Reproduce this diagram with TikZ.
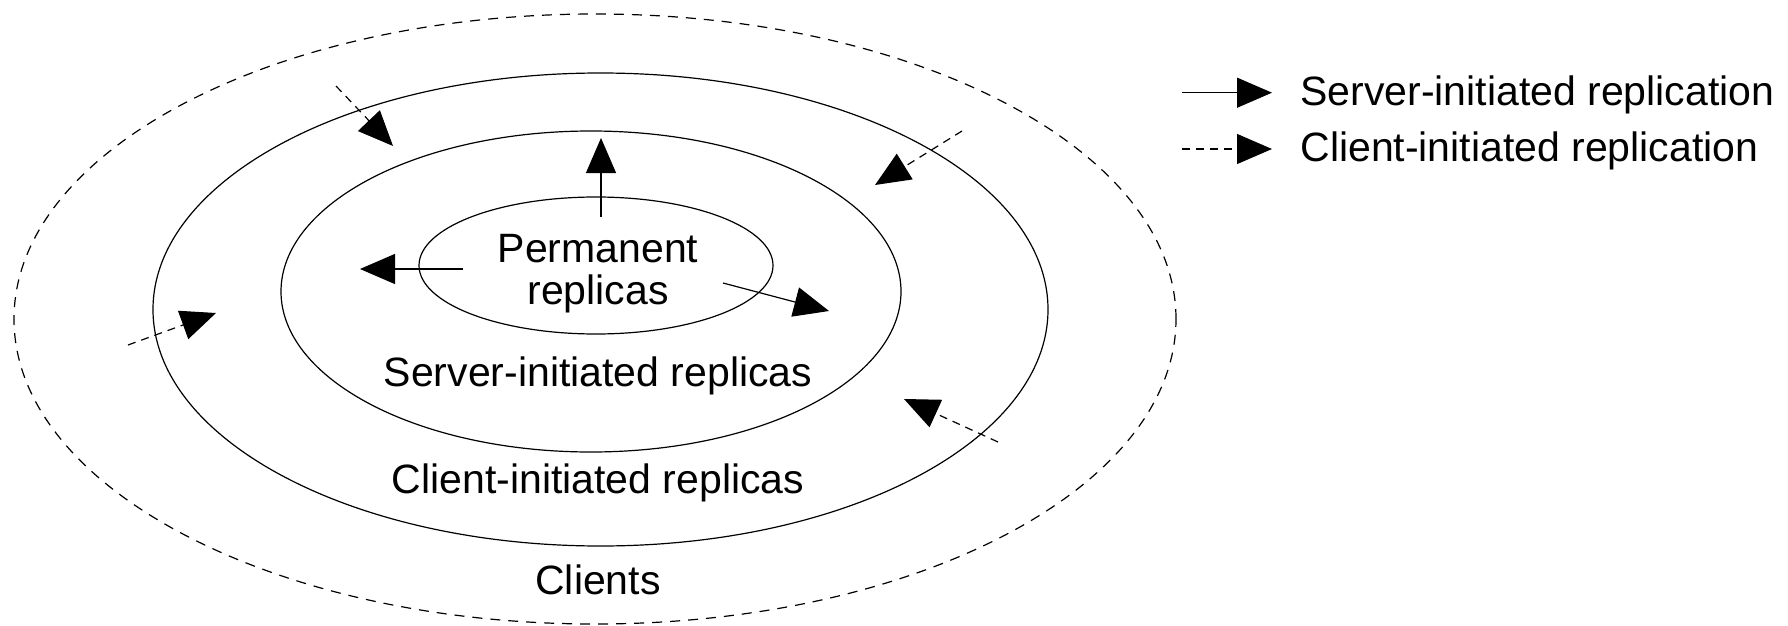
\documentclass[tikz,border=0pt]{standalone}
\usepackage{fontspec}
\setmainfont{Liberation Sans}
\usetikzlibrary{arrows.meta,shapes.geometric}
\begin{document}
\begin{tikzpicture}[x=0.5pt,y=-0.5pt,
  ring/.style={draw, ellipse, inner sep=0pt, outer sep=0pt, line width=0.6pt},
  dring/.style={ring, dash pattern=on 5pt off 4pt},
  lbl/.style={font=\fontsize{20.5}{24}\selectfont, inner sep=0pt},
  sarrow/.style={line width=0.6pt, -{Triangle[length=17.5pt,width=15pt]}},
  carrow/.style={sarrow, dash pattern=on 4pt off 3pt}]
\useasboundingbox (0,0) rectangle (1788,626);
% rings
\node[dring, minimum width=581pt, minimum height=305pt] (clients) at (595,319) {};
\node[ring, minimum width=447.5pt, minimum height=236.5pt] (cir) at (600.5,309.5) {};
\node[ring, minimum width=310pt, minimum height=160.5pt] (sir) at (591,291.5) {};
\node[ring, minimum width=177pt, minimum height=68.5pt] (perm) at (596,265.5) {};
% labels
\node[lbl, anchor=base] (tperm1) at (598,262) {Permanent};
\node[lbl, anchor=base] (tperm2) at (598,304) {replicas};
\node[lbl, anchor=base] (tsir) at (598,386) {Server-initiated replicas};
\node[lbl, anchor=base] (tcir) at (598,493) {Client-initiated replicas};
\node[lbl, anchor=base] (tcl) at (598,594) {Clients};
% server-initiated arrows
\coordinate (s1a) at (601,217); \coordinate (s1b) at (601,138);
\coordinate (s2a) at (463,269); \coordinate (s2b) at (360,269);
\coordinate (s3a) at (723,283); \coordinate (s3b) at (829,311);
\draw[sarrow] (s1a) -- (s1b);
\draw[sarrow] (s2a) -- (s2b);
\draw[sarrow] (s3a) -- (s3b);
% client-initiated arrows
\coordinate (c1a) at (336,86);  \coordinate (c1b) at (393,146);
\coordinate (c2a) at (128,345); \coordinate (c2b) at (216,313);
\coordinate (c3a) at (962,131); \coordinate (c3b) at (875,185);
\coordinate (c4a) at (998,442); \coordinate (c4b) at (904,399);
\draw[carrow] (c1a) -- (c1b);
\draw[carrow] (c2a) -- (c2b);
\draw[carrow] (c3a) -- (c3b);
\draw[carrow] (c4a) -- (c4b);
% legend
\coordinate (l1a) at (1182,92.7); \coordinate (l1b) at (1272,92.7);
\coordinate (l2a) at (1182,149);  \coordinate (l2b) at (1272,149);
\draw[sarrow] (l1a) -- (l1b);
\draw[carrow] (l2a) -- (l2b);
\node[lbl, anchor=base west] (leg1) at (1300,105) {Server-initiated replication};
\node[lbl, anchor=base west] (leg2) at (1300,161.5) {Client-initiated replication};
\end{tikzpicture}
\end{document}
